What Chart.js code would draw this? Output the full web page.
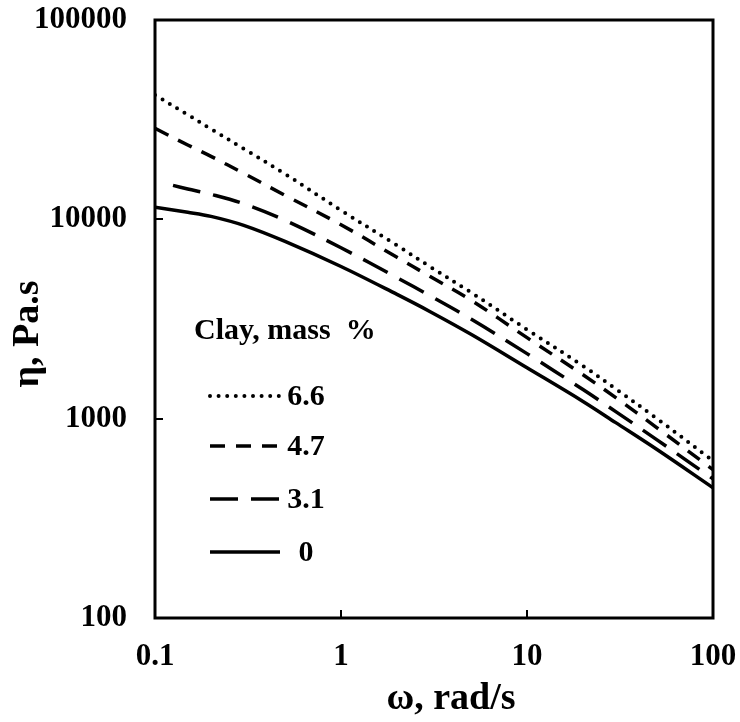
<!DOCTYPE html>
<html>
<head>
<meta charset="utf-8">
<script src="https://cdn.jsdelivr.net/npm/chart.js@4"></script>
<style>
  html, body { margin: 0; padding: 0; background: #fff; }
  #wrap { width: 740px; height: 722px; }
</style>
</head>
<body>
<div id="wrap"><canvas id="myChart" width="740" height="722"></canvas></div>
<script>
// values
var omega = [0.1, 0.15, 0.2, 0.3, 0.5, 1, 2, 3, 5, 10, 20, 30, 50, 100];
var omega31 = [0.125, 0.15, 0.2, 0.3, 0.5, 1, 2, 3, 5, 10, 20, 30, 50, 100];
var eta66 = [42000, 33500, 28400, 22600, 16900, 11100, 7400, 5800, 4300, 2800, 1840, 1410, 1000, 615];
var eta47 = [28600, 23600, 20700, 17000, 13200, 9400, 6450, 5180, 3930, 2550, 1660, 1275, 900, 555];
var eta31 = [14800, 14200, 13350, 11970, 9890, 7200, 5100, 4140, 3160, 2120, 1400, 1085, 783, 499];
var eta0 = [11500, 10850, 10350, 9330, 7750, 5800, 4200, 3450, 2650, 1800, 1220, 955, 700, 450];
var seriesNames = ['6.6', '4.7', '3.1', '0'];
var legendTitle = 'Clay, mass  %';
var xTitle = 'ω, rad/s';
var yTitle = 'η, Pa.s';

function pts(xs, ys) {
  return xs.map(function (x, i) { return { x: x, y: ys[i] }; });
}

function isDecade(v) {
  var l = Math.log10(v);
  return Math.abs(l - Math.round(l)) < 1e-9;
}

var serif = "'Liberation Serif', 'Times New Roman', serif";

// frame, inward ticks, axis titles and the legend box
var framePlugin = {
  id: 'frame',
  afterDraw: function (chart) {
    var ctx = chart.ctx;
    var a = chart.chartArea;
    var xs = chart.scales.x, ys = chart.scales.y;
    ctx.save();
    ctx.strokeStyle = '#000';
    ctx.lineWidth = 3;
    ctx.strokeRect(a.left, a.top, a.right - a.left, a.bottom - a.top);
    ctx.lineWidth = 2;
    ctx.beginPath();
    xs.ticks.forEach(function (t) {
      var px = Math.round(xs.getPixelForValue(t.value));
      var len = isDecade(t.value) ? 8 : 6;
      ctx.moveTo(px, a.bottom);
      ctx.lineTo(px, a.bottom - len);
    });
    ys.ticks.forEach(function (t) {
      var py = Math.round(ys.getPixelForValue(t.value));
      var len = isDecade(t.value) ? 8 : 6;
      ctx.moveTo(a.left, py);
      ctx.lineTo(a.left + len, py);
    });
    ctx.stroke();

    // axis titles
    ctx.fillStyle = '#000';
    ctx.font = 'bold 38px ' + serif;
    ctx.textAlign = 'center';
    ctx.textBaseline = 'middle';
    ctx.fillText(xTitle, 451, 699);
    ctx.save();
    ctx.translate(28, 334);
    ctx.rotate(-Math.PI / 2);
    ctx.fillText(yTitle, 0, 0);
    ctx.restore();

    // legend
    ctx.font = 'bold 30px ' + serif;
    ctx.textAlign = 'left';
    ctx.fillText(legendTitle, 194, 331);
    var rows = [396, 446, 499, 552];
    chart.data.datasets.forEach(function (ds, i) {
      var y = rows[i];
      ctx.beginPath();
      ctx.lineWidth = ds.borderWidth;
      ctx.lineCap = ds.borderCapStyle || 'butt';
      ctx.setLineDash(ds.borderDash || []);
      ctx.moveTo(210, y);
      ctx.lineTo(280, y);
      ctx.stroke();
      ctx.setLineDash([]);
      ctx.textAlign = 'center';
      ctx.fillText(ds.label, 306, y + 1);
    });
    ctx.restore();
  }
};

var ctx = document.getElementById('myChart').getContext('2d');
var chart = new Chart(ctx, {
  type: 'line',
  data: {
    datasets: [
      { label: seriesNames[0], data: pts(omega, eta66), borderColor: '#000', borderWidth: 4,
        borderDash: [0, 8.6], borderCapStyle: 'round' },
      { label: seriesNames[1], data: pts(omega, eta47), borderColor: '#000', borderWidth: 3.5,
        borderDash: [15, 11] },
      { label: seriesNames[2], data: pts(omega31, eta31), borderColor: '#000', borderWidth: 3.5,
        borderDash: [28, 13] },
      { label: seriesNames[3], data: pts(omega, eta0), borderColor: '#000', borderWidth: 3.5 }
    ]
  },
  options: {
    responsive: false,
    animation: false,
    devicePixelRatio: 1,
    layout: { padding: { left: 0, right: 27, top: 20, bottom: 0 } },
    elements: { point: { radius: 0 }, line: { tension: 0.35 } },
    plugins: { legend: { display: false }, tooltip: { enabled: false } },
    scales: {
      x: {
        type: 'logarithmic',
        min: 0.1, max: 100,
        grid: { display: false },
        border: { display: false },
        ticks: {
          autoSkip: false, maxRotation: 0, padding: 12, color: '#000',
          font: { family: serif, size: 31, weight: 'bold' },
          callback: function (v) { return isDecade(v) ? String(v) : null; }
        },
        afterFit: function (s) { s.height = 104; s.paddingLeft = 0; s.paddingRight = 0; }
      },
      y: {
        type: 'logarithmic',
        min: 100, max: 100000,
        grid: { display: false },
        border: { display: false },
        ticks: {
          autoSkip: false, padding: 20, color: '#000',
          font: { family: serif, size: 31, weight: 'bold' },
          callback: function (v) { return isDecade(v) ? String(v) : null; }
        },
        afterFit: function (s) { s.width = 155; s.paddingTop = 0; s.paddingBottom = 0; }
      }
    }
  },
  plugins: [framePlugin]
});
</script>
</body>
</html>
